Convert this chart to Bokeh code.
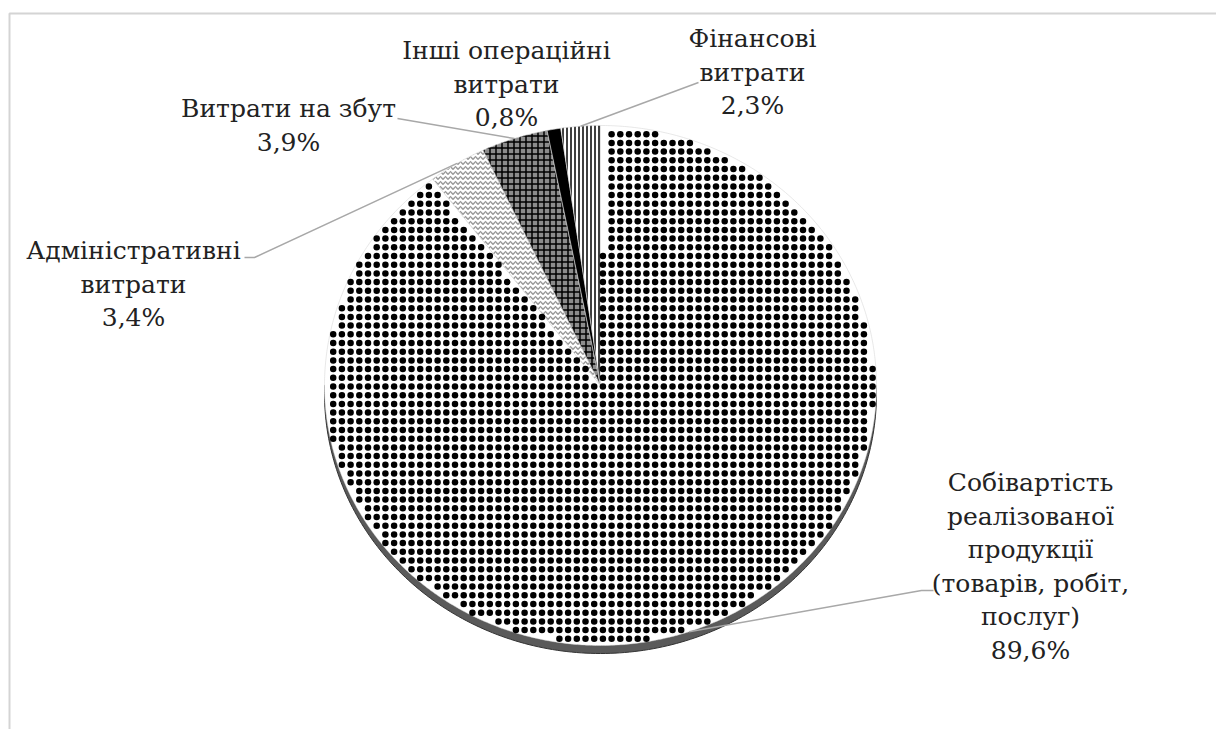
import numpy as np
from bokeh.plotting import figure
from bokeh.models import Range1d, ColumnDataSource
from bokeh.core.properties import value
from bokeh.embed import file_html
from bokeh.resources import INLINE

# Structure of expenses, %
categories = [
    "Собівартість реалізованої продукції (товарів, робіт, послуг)",
    "Адміністративні витрати",
    "Витрати на збут",
    "Інші операційні витрати",
    "Фінансові витрати",
]
shares = [89.6, 3.4, 3.9, 0.8, 2.3]
label_lines = [
    ["Собівартість", "реалізованої", "продукції", "(товарів, робіт,", "послуг)"],
    ["Адміністративні", "витрати"],
    ["Витрати на збут"],
    ["Інші операційні", "витрати"],
    ["Фінансові", "витрати"],
]

# label block placement (screen px: centre x, first line y, leader anchor)
label_x = [1030, 133, 288, 506, 752]
label_y0 = [482, 250, 108, 50, 38]
line_step = 33.5
leader_anchor = [(933, 590), (244, 257), (397, 118), None, (698, 82)]
leader_elbow = [(921, 590), (254, 257), None, None, None]

# slice styles (the first slice gets a drawn dot texture instead of a hatch)
fill_colors = ["white", "white", "#8c8c8c", "black", "white"]
hatch_patterns = ["blank", "horizontal_wave", "cross", "blank", "vertical_line"]
hatch_colors = ["black", "#9a9a9a", "black", "black", "black"]
hatch_scales = [9, 5, 6, 9, 4]
DOT_STEP, DOT_SIZE = 8.7, 6.5

W, H = 1216, 729
CX, CY, RX, RY, DEPTH = 600, 385, 276, 260, 8
FONT = "DejaVu Serif"

p = figure(width=W, height=H, x_range=Range1d(0, W), y_range=Range1d(H, 0),
           output_backend="svg", toolbar_location=None, min_border=0)
p.axis.visible = False
p.grid.visible = False
p.outline_line_color = None
p.background_fill_color = "white"
p.border_fill_color = "white"


def on_ellipse(theta_deg, dy=0.0):
    t = np.radians(theta_deg)
    return CX + RX * np.sin(t), CY - RY * np.cos(t) + dy


# frame of the chart area
p.line([9, 9, W], [H, 13, 13], line_color="#d4d4d4", line_width=2)

# angles: clockwise from 12 o'clock
ends = np.cumsum(shares) / sum(shares) * 360.0
starts = np.concatenate([[0.0], ends[:-1]])

# side band of the tilted pie (visible lower half)
arc = np.linspace(90, 270, 181)
tx, ty = on_ellipse(arc)
bx, by = on_ellipse(arc[::-1], DEPTH)
p.patch(np.concatenate([tx, bx]), np.concatenate([ty, by]),
        fill_color="#5a5a5a", line_color="#333333", line_width=1)

# slices
xs, ys = [], []
for a0, a1 in zip(starts, ends):
    n = max(int((a1 - a0) * 2), 3)
    ang = np.linspace(a0, a1, n)
    ex, ey = on_ellipse(ang)
    xs.append(np.concatenate([[CX], ex]).tolist())
    ys.append(np.concatenate([[CY], ey]).tolist())

src = ColumnDataSource(dict(xs=xs, ys=ys, fill=fill_colors, hatch=hatch_patterns,
                            hcol=hatch_colors, hsc=hatch_scales))
p.patches("xs", "ys", source=src, fill_color="fill", hatch_pattern="hatch",
          hatch_color="hcol", hatch_scale="hsc", hatch_weight=1.5,
          line_color="#d8d8d8", line_width=0.6)

# dot texture of the largest slice
gx, gy = np.meshgrid(np.arange(CX - RX, CX + RX + 1, DOT_STEP),
                     np.arange(CY - RY, CY + RY + 1, DOT_STEP))
gx, gy = gx.ravel(), gy.ravel()
nx, ny = (gx - CX) / RX, (gy - CY) / RY
theta = np.degrees(np.arctan2(nx, -ny)) % 360
keep = (np.hypot(nx, ny) <= 0.99) & (theta >= starts[0] + 1.0) & (theta <= ends[0] - 1.0)
p.scatter(gx[keep], gy[keep], size=DOT_SIZE, marker="circle",
          fill_color="black", line_color=None)

# leader lines
lxs, lys = [], []
for i, anchor in enumerate(leader_anchor):
    if anchor is None:
        continue
    mid = (starts[i] + ends[i]) / 2
    px, py = on_ellipse(mid)
    pts = [anchor]
    if leader_elbow[i] is not None:
        pts.append(leader_elbow[i])
    pts.append((float(px), float(py)))
    lxs.append([q[0] for q in pts])
    lys.append([q[1] for q in pts])
p.multi_line(lxs, lys, line_color="#a8a8a8", line_width=1.5)

# labels
tx_, ty_, tt_ = [], [], []
for i, lines in enumerate(label_lines):
    pct = f"{shares[i]:.1f}%".replace(".", ",")
    for k, s in enumerate(lines + [pct]):
        tx_.append(label_x[i])
        ty_.append(label_y0[i] + k * line_step)
        tt_.append(s)
p.text(tx_, ty_, text=tt_, text_font=value(FONT),
       text_font_size="25px", text_align="center", text_baseline="middle",
       text_color="#222222")

open("out.html", "w").write(file_html(p, INLINE))
